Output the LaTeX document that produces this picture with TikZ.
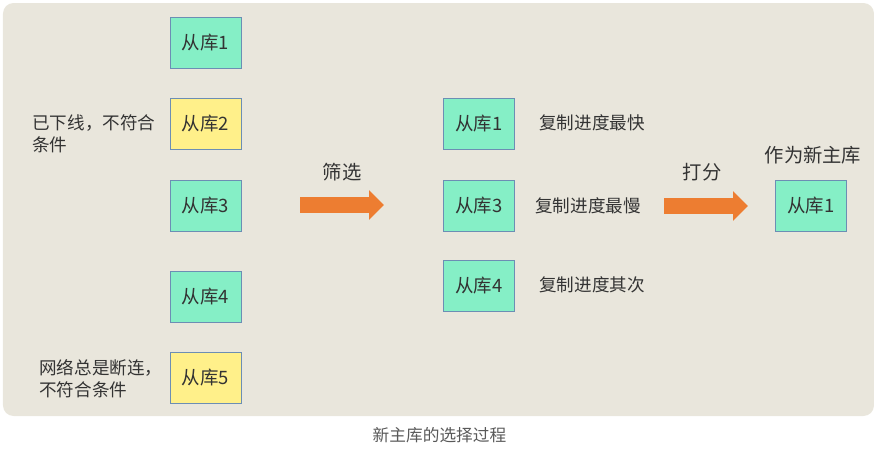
\documentclass[tikz,border=0pt]{standalone}
\usepackage{fontspec}
\setmainfont{Noto Sans CJK SC}
\usetikzlibrary{arrows.meta, positioning}
\definecolor{panelbg}{RGB}{233,230,220}
\definecolor{boxgreen}{RGB}{133,239,198}
\definecolor{boxyellow}{RGB}{255,240,138}
\definecolor{boxline}{RGB}{108,142,180}
\definecolor{txt}{RGB}{51,51,51}
\definecolor{arrorange}{RGB}{237,125,49}

\begin{document}
\begin{tikzpicture}[
    font=\fontsize{10pt}{12.5pt}\selectfont,
    text=txt,
    box/.style={draw=boxline, line width=0.5pt, minimum width=1.42cm, minimum height=1.02cm, inner sep=0pt, font=\fontsize{10.5pt}{12.5pt}\selectfont},
    greenbox/.style={box, fill=boxgreen},
    yellowbox/.style={box, fill=boxyellow},
    note/.style={anchor=west, inner sep=0pt},
    sidenote/.style={anchor=west, align=left, inner sep=0pt},
    bigtitle/.style={font=\fontsize{11pt}{13pt}\selectfont, inner sep=0pt},
    bigarr/.style={-{Triangle[length=0.3cm, width=0.58cm]}, line width=0.32cm, draw=arrorange}
]

% frame and background panel
\useasboundingbox (0,0) rectangle (17.48,-9.0);
\fill[panelbg, rounded corners=6pt] (0.06,-0.06) rectangle (17.48,-8.32);

% ================= LEFT: ALL REPLICAS =================
\node[greenbox] (s1) at (4.11,-0.85) {从库1};
\node[yellowbox] (s2) at (4.11,-2.48) {从库2};
\node[greenbox] (s3) at (4.11,-4.12) {从库3};
\node[greenbox] (s4) at (4.11,-5.93) {从库4};
\node[yellowbox] (s5) at (4.11,-7.56) {从库5};

\node[sidenote] (offline) at (0.64,-2.68) {已下线，不符合\\条件};
\node[sidenote] (flaky) at (0.78,-7.57) {网络总是断连，\\不符合条件};

% ================= FILTER ARROW =================
\coordinate (fA) at (6.0,-4.1);
\coordinate (fB) at (7.68,-4.1);
\draw[bigarr] (fA) -- (fB);
\node[bigtitle] (filter) at (6.84,-3.44) {筛选};

% ================= MIDDLE: CANDIDATES =================
\node[greenbox] (m1) at (9.58,-2.48) {从库1};
\node[greenbox] (m3) at (9.58,-4.12) {从库3};
\node[greenbox] (m4) at (9.58,-5.72) {从库4};

\node[note] (fast) at (10.78,-2.46) {复制进度最快};
\node[note] (slow) at (10.70,-4.12) {复制进度最慢};
\node[note] (next) at (10.78,-5.70) {复制进度其次};

% ================= SCORE ARROW =================
\coordinate (gA) at (13.28,-4.12);
\coordinate (gB) at (14.96,-4.12);
\draw[bigarr] (gA) -- (gB);
\node[bigtitle] (score) at (14.04,-3.44) {打分};

% ================= RIGHT: NEW MASTER =================
\node[greenbox] (master) at (16.22,-4.12) {从库1};
\node[bigtitle] (mtitle) at (16.26,-3.10) {作为新主库};

% caption
\node[text=black!65, font=\fontsize{9.5pt}{11pt}\selectfont] (caption) at (8.79,-8.70) {新主库的选择过程};

\end{tikzpicture}
\end{document}
